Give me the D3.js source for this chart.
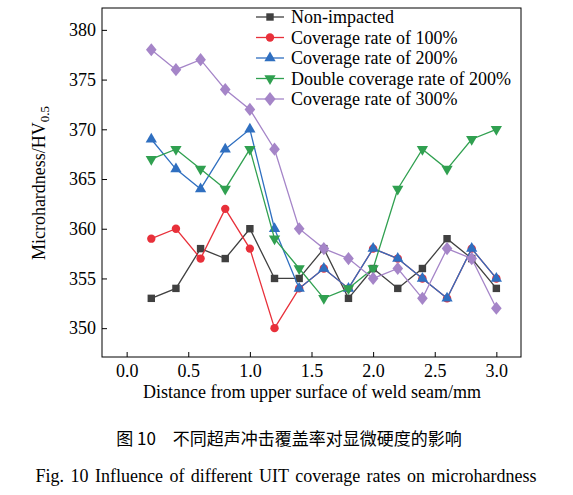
<!DOCTYPE html><html><head><meta charset="utf-8"><script src="https://cdn.jsdelivr.net/npm/d3@7"></script>
<style>body{margin:0;background:#fff}svg text{font-family:"Liberation Serif","Times New Roman",serif !important}svg text.cjk{font-family:"Noto Sans CJK SC",sans-serif !important}</style></head><body><svg id="c" width="573" height="495"></svg><script>
const xs=[0.2,0.4,0.6,0.8,1.0,1.2,1.4,1.6,1.8,2.0,2.2,2.4,2.6,2.8,3.0];
const names=["Non-impacted","Coverage rate of 100%","Coverage rate of 200%","Double coverage rate of 200%","Coverage rate of 300%"];
const colors=["#404040","#e8303a","#2f6fc0","#30a050","#a585c8"];
const shapes=["square","circle","triangle","down","diamond"];
const s0=[353,354,358,357,360,355,355,358,353,356,354,356,359,357,354];
const s1=[359,360,357,362,358,350,354,356,354,358,357,355,353,358,355];
const s2=[369,366,364,368,370,360,354,356,354,358,357,355,353,358,355];
const s3=[367,368,366,364,368,359,356,353,354,356,364,368,366,369,370];
const s4=[378,376,377,374,372,368,360,358,357,355,356,353,358,357,352];
const series=[s0,s1,s2,s3,s4];
const xTicks=[0,0.5,1,1.5,2,2.5,3],yTicks=[350,355,360,365,370,375,380];
const svg=d3.select("#c");
const L=102,R=521,T=8,B=357;
const x=d3.scaleLinear([-0.2,3.2],[L,R]),y=d3.scaleLinear([347.1,382.2],[B,T]);
svg.append("rect").attr("x",L).attr("y",T).attr("width",R-L).attr("height",B-T).attr("fill","none").attr("stroke","#000");
svg.append("g").attr("transform",`translate(0,${B})`).call(d3.axisBottom(x).tickValues(xTicks).tickFormat(d3.format(".1f")).tickSizeInner(-5).tickSizeOuter(0).tickPadding(7)).call(g=>{g.attr("font-family",null);g.select(".domain").remove();g.selectAll("text").attr("font-size",18)});
svg.append("g").attr("transform",`translate(${L},0)`).call(d3.axisLeft(y).tickValues(yTicks).tickSizeInner(-5).tickSizeOuter(0).tickPadding(6)).call(g=>{g.attr("font-family",null);g.select(".domain").remove();g.selectAll("text").attr("font-size",18)});
const sym={square:d3.symbolSquare,circle:d3.symbolCircle,triangle:d3.symbolTriangle,down:d3.symbolTriangle,diamond:d3.symbolDiamond};
series.forEach((s,i)=>{
 svg.append("path").datum(s).attr("fill","none").attr("stroke",colors[i]).attr("stroke-width",1.3).attr("d",d3.line().x((d,j)=>x(xs[j])).y(d=>y(d)));
 svg.append("g").selectAll("path").data(s).join("path").attr("fill",colors[i])
  .attr("transform",(d,j)=>`translate(${x(xs[j])},${y(d)})${shapes[i]=="down"?" rotate(180)":""}${shapes[i]=="diamond"?" scale(1.4,1)":""}`)
  .attr("d",d3.symbol(sym[shapes[i]],shapes[i]=="diamond"?50:55));
});
const lg=svg.append("g");
names.forEach((n,i)=>{
 const yy=17+i*20.5;
 lg.append("line").attr("x1",256).attr("x2",284).attr("y1",yy).attr("y2",yy).attr("stroke",colors[i]).attr("stroke-width",1.3);
 lg.append("path").attr("fill",colors[i]).attr("transform",`translate(270,${yy})${shapes[i]=="down"?" rotate(180)":""}${shapes[i]=="diamond"?" scale(1.4,1)":""}`).attr("d",d3.symbol(sym[shapes[i]],55)());
 lg.append("text").attr("x",291).attr("y",yy+6).attr("font-size",18).text(n);
});
svg.append("text").attr("x",312).attr("y",398).attr("text-anchor","middle").attr("font-size",18).text("Distance from upper surface of weld seam/mm");
const yl=svg.append("text").attr("transform","translate(45,183) rotate(-90)").attr("text-anchor","middle").attr("font-size",18);
yl.append("tspan").text("Microhardness/HV");yl.append("tspan").attr("font-size",13).attr("dy",4).text("0.5");
svg.append("text").attr("class","cjk").attr("x",289).attr("y",445).attr("text-anchor","middle").attr("font-size",17).text("图 10　不同超声冲击覆盖率对显微硬度的影响");
svg.append("text").attr("x",286).attr("y",482).attr("text-anchor","middle").attr("font-size",18).attr("word-spacing",2).text("Fig. 10   Influence of different UIT coverage rates on microhardness");
</script></body></html>
